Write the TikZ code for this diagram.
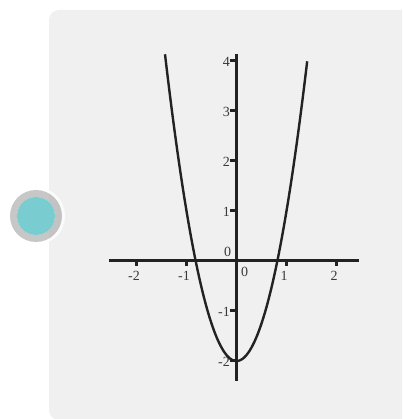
\documentclass[tikz,border=0pt]{standalone}
\usepackage{fontspec}
\setmainfont{Liberation Serif}
\definecolor{panel}{HTML}{F0F0F0}
\definecolor{ink}{HTML}{222222}
\definecolor{lbl}{HTML}{3A3A3A}
\definecolor{teal}{HTML}{79CCCF}
\tikzset{
  axisline/.style={draw=ink, line width=3pt},
  tickmark/.style={draw=ink, line width=3pt},
  curveline/.style={draw=ink, line width=2.4pt},
  lab/.style={text=lbl, font=\fontsize{14}{14}\selectfont, inner sep=0pt},
}
\begin{document}
\begin{tikzpicture}
\useasboundingbox (0,0) rectangle (402pt,419pt);
\clip (0,0) rectangle (402pt,419pt);
% panel
\fill[panel, rounded corners=10pt] (49pt,-1pt) rectangle (430pt,409pt);
% button circle
\fill[white, opacity=0.75] (36pt,203pt) circle (29pt);
\fill[black, opacity=0.22, even odd rule] (36pt,203pt) circle (26pt) (36pt,203pt) circle (19pt);
\fill[teal] (36pt,203pt) circle (19pt);
% graph
\begin{scope}[shift={(236.5pt,158pt)}, x=50pt, y=50pt]
  \coordinate (xl) at (-2.55,0);
  \coordinate (xr) at (2.45,0);
  \coordinate (yt) at (0,4.14);
  \coordinate (yb) at (0,-2.4);
  \draw[axisline] (xl) -- (xr);
  \draw[axisline] (yb) -- (yt);
  \foreach \i in {-2,-1,1,2}{
    \coordinate (xt\i) at (\i,0);
    \draw[tickmark] (xt\i) -- ++(0,-0.1);
    \node[lab] (xlab\i) at (\i-0.05,-0.29) {\i};
  }
  \foreach \i in {-2,-1,1,2,3,4}{
    \coordinate (yt\i) at (0,\i);
    \draw[tickmark] (yt\i) -- ++(-0.13,0);
    \node[lab, anchor=east] (ylab\i) at (-0.13,\i-0.01) {\i};
  }
  \node[lab] (zeroA) at (-0.18,0.19) {0};
  \node[lab] (zeroB) at (0.16,-0.21) {0};
  \draw[curveline, domain=-1.43:1.415, samples=120, smooth] plot (\x,{3*\x*\x-2});
\end{scope}
\end{tikzpicture}
\end{document}
